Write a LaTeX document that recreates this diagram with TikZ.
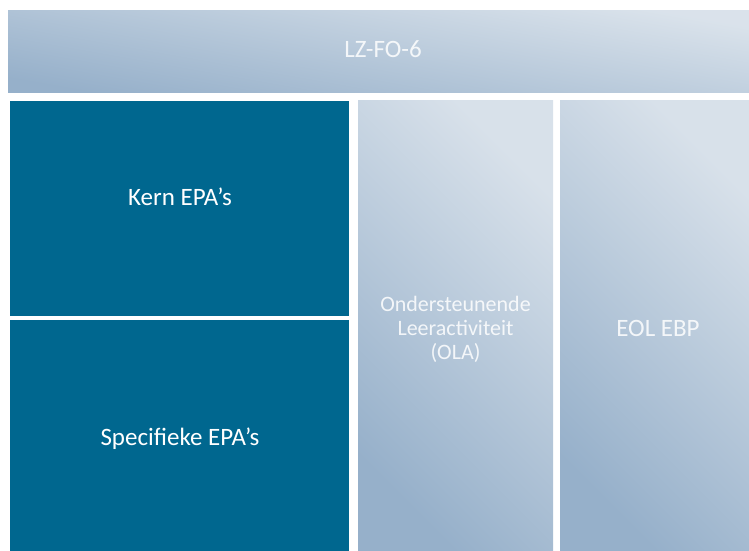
\documentclass[tikz,border=0pt]{standalone}
\usepackage{fontspec}
\setmainfont{Carlito}
\usepackage{xcolor}
\usepackage{tikz}
\definecolor{epablue}{HTML}{00678F}
\definecolor{gradlight}{HTML}{D8E1EA}
\definecolor{graddark}{HTML}{96B0CA}
\tikzset{
  lzfont/.style={font=\fontsize{25}{26}\selectfont},
  olafont/.style={font=\fontsize{22}{24}\selectfont},
  blocklabel/.style={text=white, inner sep=0pt},
  softlabel/.style={blocklabel, text opacity=0.85},
  epafill/.style={fill=epablue},
  gradfill/.style={top color=gradlight, bottom color=graddark, shading angle=-45},
  gradfilltop/.style={top color=gradlight!95!white, bottom color=graddark, shading angle=-10},
}

\begin{document}
\begin{tikzpicture}[x=1pt, y=1pt, lzfont]
		\useasboundingbox (0,0) rectangle (749,551);
		% Top bar
		\shade[gradfilltop] (8,458) rectangle (749,540);
		\node[softlabel, anchor=base] (lzfo) at (383,493) {LZ-FO-6};

		% Left blocks: EPA's
		\fill[epafill] (10,235) rectangle (349,450);
		\fill[epafill] (10,0) rectangle (349,231);
		\node[blocklabel, anchor=base] (kern) at (180,345) {Kern EPA’s};
		\node[blocklabel, anchor=base] (spec) at (180,105) {Specifieke EPA’s};

		% Right columns
		\shade[gradfill] (358,0) rectangle (553,450);
		\shade[gradfill] (560,0) rectangle (749,450);
		\node[softlabel, olafont, align=center] (ola) at (455.5,222) {Ondersteunende\\Leeractiviteit\\(OLA)};
		\node[softlabel, anchor=base] (eol) at (658,214) {EOL EBP};
	\end{tikzpicture}
\end{document}
